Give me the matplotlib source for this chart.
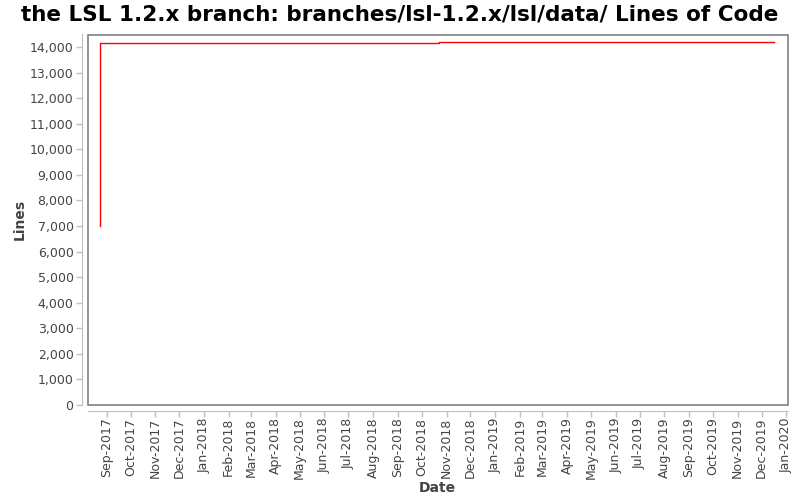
import matplotlib
matplotlib.use("Agg")
import matplotlib.pyplot as plt
import matplotlib.dates as mdates
from matplotlib.patches import Rectangle
import datetime as dt

dates = ["2017-08-24", "2017-08-24", "2017-11-21", "2018-07-25", "2018-10-22",
         "2019-08-22", "2019-10-10", "2019-12-17"]
lines = [7020, 14140, 14160, 14175, 14190, 14192, 14205, 14205]

title = "the LSL 1.2.x branch: branches/lsl-1.2.x/lsl/data/ Lines of Code"

x = [dt.datetime.strptime(d, "%Y-%m-%d") for d in dates]

fig = plt.figure(figsize=(8, 5), dpi=100)
ax = fig.add_axes([87.5/800, 1-405/500, (788-87.5)/800, (405-34.5)/500])

ax.plot(x, lines, color="#ff0000", lw=1.0, drawstyle="steps-post")

ax.set_xlim(dt.datetime(2017, 8, 8), dt.datetime(2020, 1, 3))
ax.set_ylim(0, 14490)
ax.yaxis.set_major_locator(matplotlib.ticker.MultipleLocator(1000))
ax.yaxis.set_major_formatter(matplotlib.ticker.FuncFormatter(lambda v, p: f"{int(v):,}"))
ax.xaxis.set_major_locator(mdates.MonthLocator())
ax.xaxis.set_major_formatter(mdates.DateFormatter("%b-%Y"))
ax.tick_params(axis="x", labelrotation=90)

ax.tick_params(axis="both", colors="#c0c0c0", labelcolor="#444444", labelsize=9, length=4, width=1, pad=2)
ax.tick_params(axis="x", pad=1)
ax.spines["left"].set_position(("outward", 4))
ax.spines["bottom"].set_position(("outward", 4))
for s in ["left", "bottom"]:
    ax.spines[s].set_color("#c0c0c0")
for s in ["top", "right"]:
    ax.spines[s].set_visible(False)
ax.add_patch(Rectangle((0, 0), 1, 1, transform=ax.transAxes, fill=False,
                       edgecolor="#808080", lw=1.2, clip_on=False, zorder=5))

ax.set_xlabel("Date", fontsize=10, fontweight="bold", color="#444444", labelpad=1)
ax.set_ylabel("Lines", fontsize=10, fontweight="bold", color="#444444", labelpad=2)
fig.text(0.5, 1-14/500, title, ha="center", va="center", fontsize=15.5, fontweight="bold")

fig.savefig("out.png", dpi=100)
